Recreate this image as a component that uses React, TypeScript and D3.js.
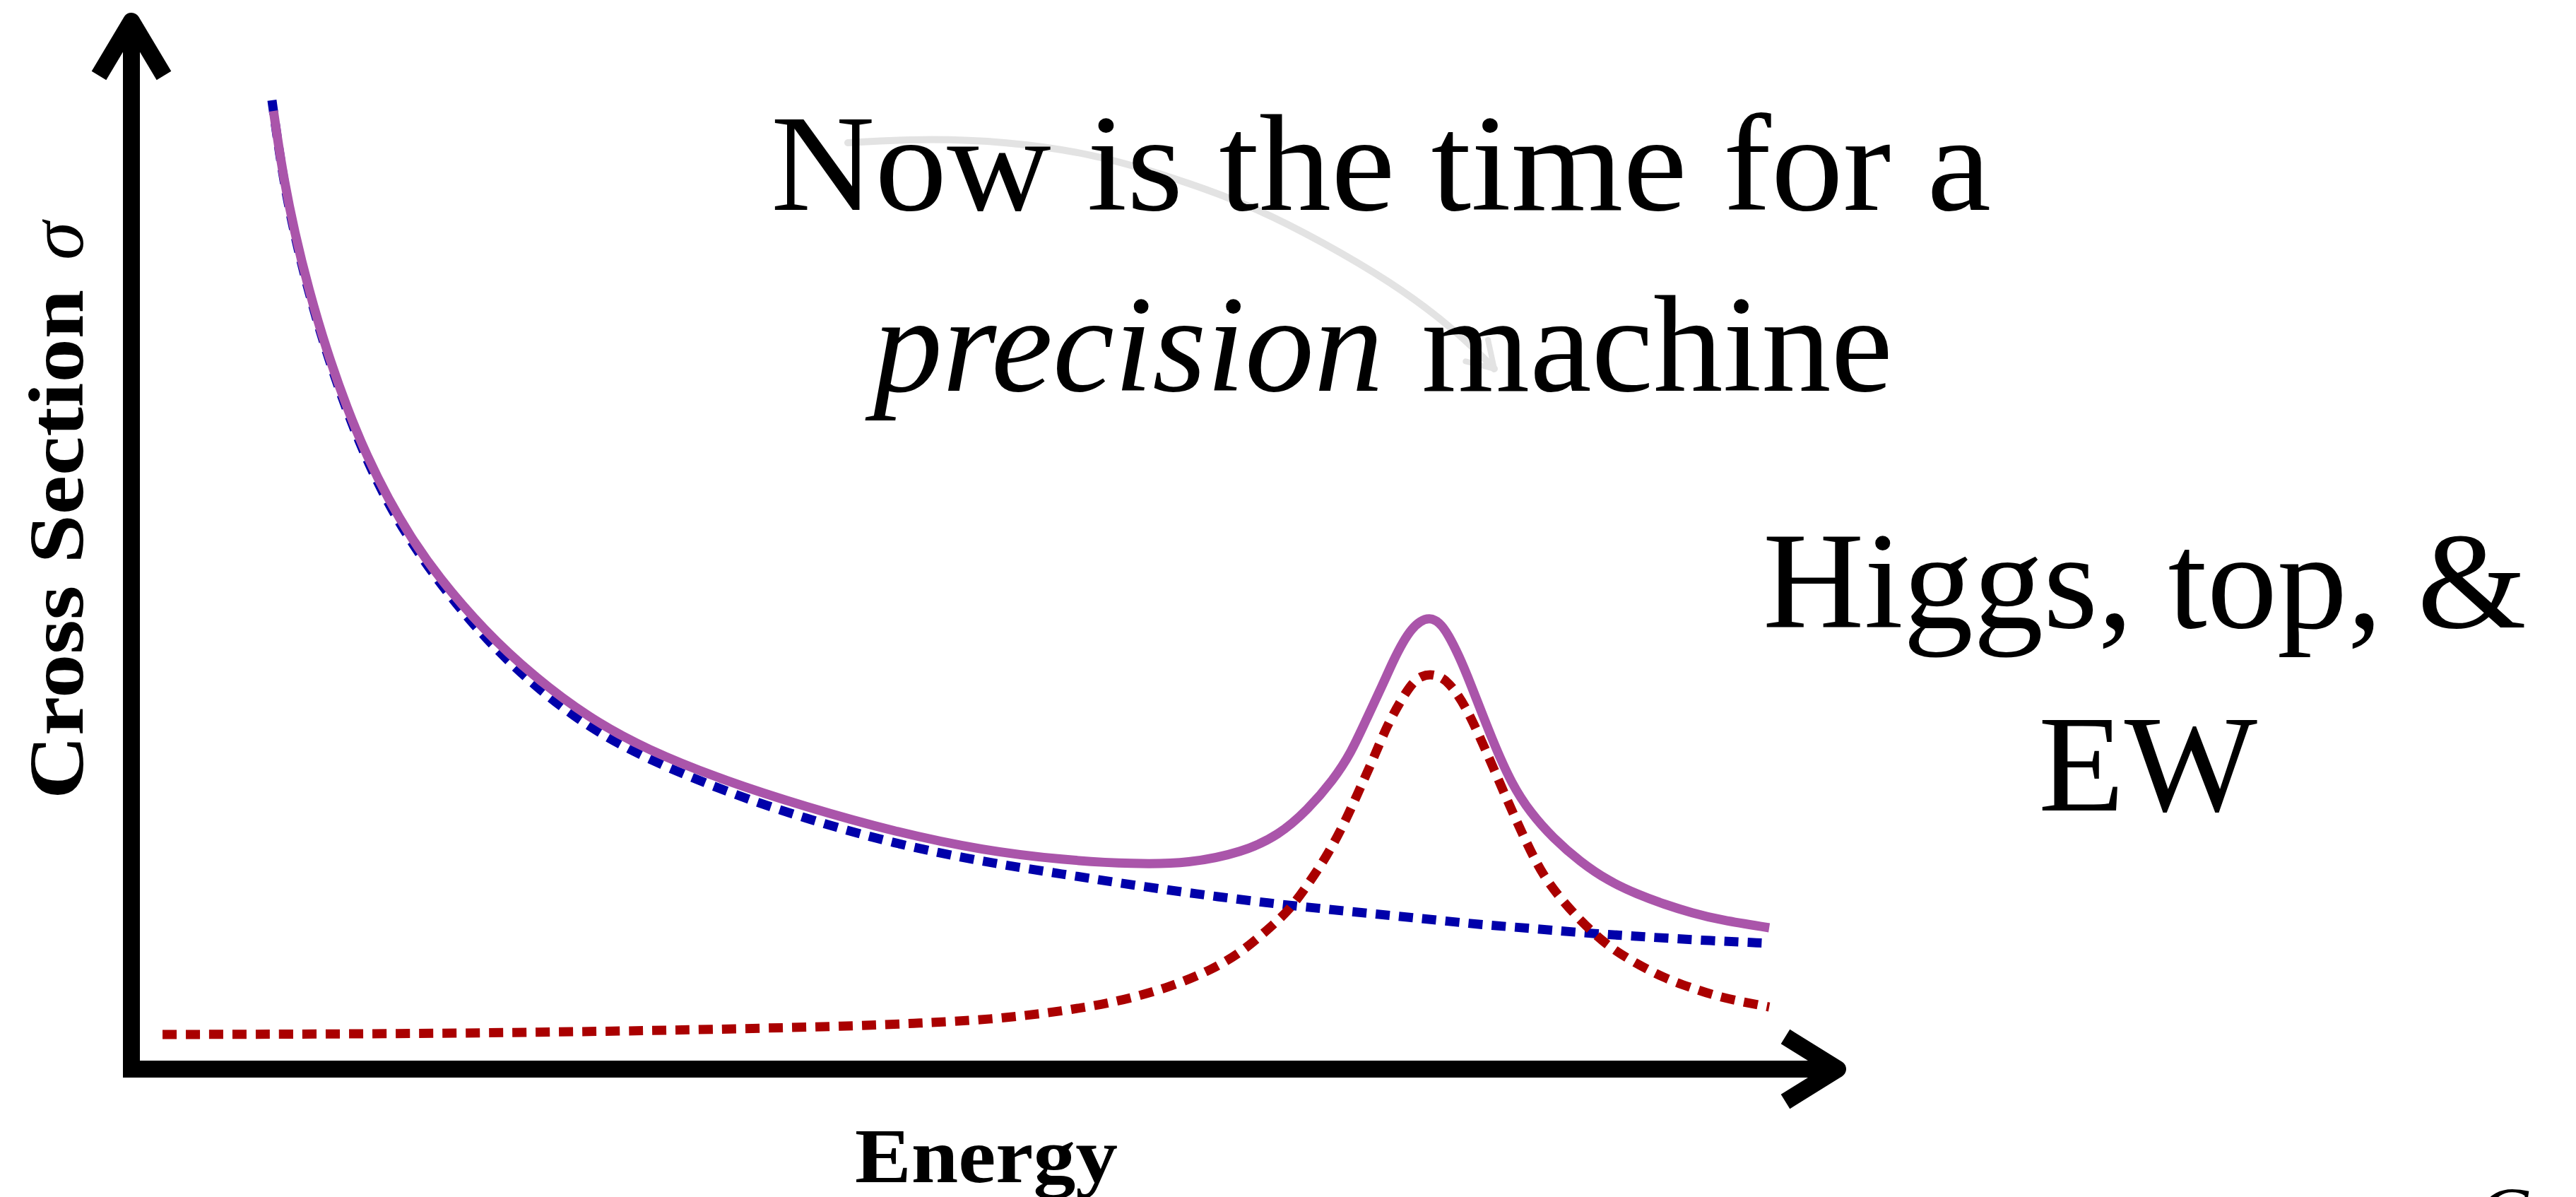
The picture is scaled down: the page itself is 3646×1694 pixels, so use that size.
import React from 'react';
import * as d3 from 'd3';

const W = 3646;
const H = 1694;

// Total cross section (continuum + resonance), energy in arbitrary units
const totalEnergy = [8.31, 8.84, 9.55, 10.37, 11.4, 12.64, 13.8, 15.04, 16.28, 17.93, 20.62, 23.51, 26.69, 30.12, 34.83, 39.34, 44.59, 49.88, 54.46, 58.68, 61.86, 65.0, 67.11, 68.8, 70.29, 71.32, 72.19, 73.22, 73.8, 74.38, 74.88, 75.37, 75.91, 76.49, 77.02, 77.64, 78.22, 79.63, 80.74, 81.82, 83.14, 84.75, 86.4, 88.02, 89.67, 91.28, 92.93, 95.79];
const totalSigma = [91.13, 85.22, 79.5, 74.13, 68.41, 62.7, 58.2, 54.17, 50.74, 46.84, 41.73, 37.37, 33.47, 30.38, 27.35, 25.0, 22.58, 20.77, 19.89, 19.49, 19.56, 20.63, 22.24, 24.66, 27.49, 30.04, 33.13, 36.69, 38.84, 40.66, 41.87, 42.61, 42.94, 42.54, 41.33, 39.31, 37.1, 31.12, 27.08, 24.4, 21.98, 19.69, 17.88, 16.67, 15.66, 14.85, 14.18, 13.44];

// Falling continuum
const continuumEnergy = [8.22, 8.84, 9.55, 10.37, 11.4, 12.64, 13.8, 15.04, 16.4, 18.26, 20.62, 23.51, 26.69, 30.12, 34.83, 39.34, 44.59, 49.88, 54.46, 58.68, 62.89, 67.11, 71.32, 75.54, 79.09, 81.49, 84.75, 88.02, 91.28, 95.79];
const continuumSigma = [92.14, 84.95, 79.23, 73.86, 68.15, 62.37, 57.8, 53.7, 50.0, 45.7, 41.06, 36.49, 32.53, 29.5, 26.34, 23.86, 21.44, 19.69, 18.55, 17.47, 16.53, 15.66, 14.99, 14.31, 13.71, 13.44, 12.97, 12.63, 12.3, 11.96];

// Resonance
const resonanceEnergy = [1.82, 16.28, 26.57, 33.64, 42.31, 46.03, 50.25, 54.46, 57.64, 60.79, 63.31, 65.0, 66.49, 67.73, 68.8, 69.88, 70.91, 71.74, 72.6, 73.43, 74.3, 74.96, 75.45, 75.95, 76.49, 77.02, 77.98, 79.17, 80.58, 81.49, 82.15, 82.81, 83.64, 84.75, 86.07, 87.36, 89.67, 91.28, 92.93, 95.79];
const resonanceSigma = [3.29, 3.36, 3.56, 3.76, 4.1, 4.37, 4.7, 5.51, 6.38, 7.8, 9.54, 11.22, 13.31, 15.12, 17.54, 20.16, 23.25, 26.28, 29.37, 32.66, 35.22, 36.83, 37.37, 37.57, 37.37, 36.83, 34.74, 30.51, 25.13, 21.91, 19.69, 17.88, 16.13, 14.11, 12.1, 10.62, 8.6, 7.73, 6.79, 5.91];

// Grey pointer from the headline towards the resonance
const pointerEnergy = [41.9, 46.16, 51.16, 56.16, 61.2, 65.7, 69.71, 73.72, 76.69, 78.72, 79.71];
const pointerSigma = [88.1, 88.51, 88.24, 87.1, 84.68, 81.99, 78.63, 74.8, 71.24, 68.28, 66.6];

const PURPLE = '#aa55aa';
const BLUE = '#0000aa';
const RED = '#aa0000';
const FONT = '"Liberation Serif", "Times New Roman", serif';

export default function App() {
  const x = d3.scaleLinear().domain([0, 100]).range([186, 2606]);
  const y = d3.scaleLinear().domain([0, 100]).range([1513, 25]);

  const line = d3
    .line<[number, number]>()
    .x((d) => x(d[0]))
    .y((d) => y(d[1]))
    .curve(d3.curveBasis);

  const total = d3.zip(totalEnergy, totalSigma) as [number, number][];
  const continuum = d3.zip(continuumEnergy, continuumSigma) as [number, number][];
  const resonance = d3.zip(resonanceEnergy, resonanceSigma) as [number, number][];
  const pointer = d3.zip(pointerEnergy, pointerSigma) as [number, number][];

  // pointer tip: two short barbs folded back from the end of the arc
  const pEnd = pointer[pointer.length - 1];
  const pPrev = pointer[pointer.length - 2];
  const tipX = x(pEnd[0]);
  const tipY = y(pEnd[1]);
  const ang = Math.atan2(tipY - y(pPrev[1]), tipX - x(pPrev[0]));
  const barb = 42;
  const spread = 0.55;
  const b1x = tipX - barb * Math.cos(ang - spread);
  const b1y = tipY - barb * Math.sin(ang - spread);
  const b2x = tipX - barb * Math.cos(ang + spread);
  const b2y = tipY - barb * Math.sin(ang + spread);

  return (
    <svg
      width={W}
      height={H}
      viewBox={`0 0 ${W} ${H}`}
      style={{ position: 'absolute', left: 0, top: 0, display: 'block', background: '#fff' }}
    >
      <rect x={0} y={0} width={W} height={H} fill="#ffffff" />

      {/* pointer */}
      <path d={line(pointer) ?? ''} fill="none" stroke="#e3e3e3" strokeWidth={10} strokeLinecap="round" />
      <path
        d={`M${b1x},${b1y} L${tipX},${tipY} L${b2x},${b2y}`}
        fill="none"
        stroke="#e3e3e3"
        strokeWidth={8}
        strokeLinecap="round"
        strokeLinejoin="round"
      />

      {/* headline */}
      <g fontFamily={FONT} fill="#000">
        <text x={1091} y={297} fontSize={195} textLength={1727} lengthAdjust="spacingAndGlyphs">
          Now is the time for a
        </text>
        <text x={1236} y={553} fontSize={195} fontStyle="italic" textLength={722} lengthAdjust="spacingAndGlyphs">
          precision
        </text>
        <text x={2012} y={553} fontSize={195} textLength={667} lengthAdjust="spacingAndGlyphs">
          machine
        </text>
        <text x={2495} y={888} fontSize={195} textLength={1081} lengthAdjust="spacingAndGlyphs">
          {'Higgs, top, &'}
        </text>
        <text x={2885} y={1147} fontSize={195} textLength={310} lengthAdjust="spacingAndGlyphs">
          EW
        </text>
      </g>

      {/* axis labels */}
      <g fontFamily={FONT} fill="#000">
        <text x={1210} y={1673} fontSize={110} fontWeight="bold" textLength={372} lengthAdjust="spacingAndGlyphs">
          Energy
        </text>
        <text
          transform="translate(117,1131) rotate(-90)"
          fontSize={110}
          fontWeight="bold"
          textLength={721}
          lengthAdjust="spacingAndGlyphs"
        >
          Cross Section
        </text>
        <text transform="translate(117,368) rotate(-90)" fontSize={110} fontStyle="italic">
          σ
        </text>
        <text x={3505} y={1756} fontSize={110} fontStyle="italic">
          C
        </text>
      </g>

      {/* axes */}
      <path d="M186,36 L186,1513 L2595,1513" fill="none" stroke="#000" strokeWidth={24} strokeLinejoin="miter" />
      <path d="M140,107 L186,30 L232,107" fill="none" stroke="#000" strokeWidth={24} strokeLinejoin="round" strokeLinecap="butt" />
      <path d="M2527,1467 L2601,1513 L2527,1559" fill="none" stroke="#000" strokeWidth={24} strokeLinejoin="round" strokeLinecap="butt" />

      {/* curves */}
      <path d={line(continuum) ?? ''} fill="none" stroke={BLUE} strokeWidth={13} strokeDasharray="20 13" />
      <path d={line(resonance) ?? ''} fill="none" stroke={RED} strokeWidth={13} strokeDasharray="20 13" />
      <path d={line(total) ?? ''} fill="none" stroke={PURPLE} strokeWidth={13} />
    </svg>
  );
}
